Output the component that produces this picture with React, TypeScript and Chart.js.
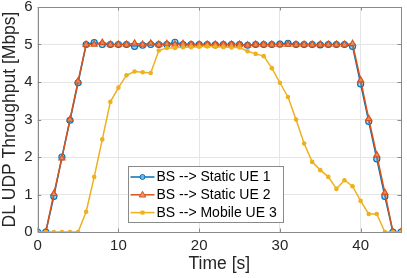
import React, { useEffect, useRef } from "react";
import { Chart, registerables } from "chart.js";

Chart.register(...registerables);

const timeS = [0,1,2,3,4,5,6,7,8,9,10,11,12,13,14,15,16,17,18,19,20,21,22,23,24,25,26,27,28,29,30,31,32,33,34,35,36,37,38,39,40,41,42,43,44,45];
const staticUE1 = [0,0,0.95,2.0,2.98,3.98,5.0,5.05,5.0,5.0,5.0,5.0,4.95,4.98,5.0,5.0,5.0,5.06,5.0,5.0,5.0,5.0,4.99,5.0,5.0,5.0,4.98,5.0,5.0,5.0,5.01,5.03,5.0,5.0,5.0,4.99,5.0,5.0,5.0,4.95,3.95,2.95,1.95,0.95,0,0];
const staticUE2 = [0,0,1.02,1.97,3.0,4.02,5.0,5.0,5.05,5.0,5.0,5.0,5.03,5.0,5.03,5.0,5.02,5.0,5.02,5.0,5.0,5.0,5.0,5.0,5.0,5.0,4.98,5.0,5.0,5.0,5.0,5.0,5.0,5.0,5.0,5.0,5.0,5.0,5.0,5.02,4.05,3.02,2.05,1.05,0,0];
const mobileUE3 = [0,0,0,0,0,0,0.54,1.47,2.47,3.47,3.85,4.18,4.28,4.26,4.24,4.84,4.91,4.91,4.93,4.93,4.94,4.95,4.94,4.93,4.92,4.92,4.82,4.75,4.69,4.37,3.98,3.6,3.0,2.36,1.87,1.65,1.47,1.15,1.38,1.22,0.83,0.48,0.48,0,0,0];

const seriesLabels = ["BS --> Static UE 1", "BS --> Static UE 2", "BS --> Mobile UE 3"];
const xTicks = [0, 10, 20, 30, 40];
const yTicks = [0, 1, 2, 3, 4, 5, 6];

const BLUE = "#0072BD";
const ORANGE = "#D95319";
const YELLOW = "#EDB120";
const TEXT = "#262626";
const FONT = "'Liberation Sans', Arial, Helvetica, sans-serif";

const boxPlugin = {
  id: "boxTicks",
  afterDraw(chart: any) {
    const { ctx, chartArea: a, scales } = chart;
    ctx.save();
    ctx.strokeStyle = "#8a8a8a";
    ctx.lineWidth = 1;
    ctx.strokeRect(Math.round(a.left) + 0.5, Math.round(a.top) + 0.5, Math.round(a.right - a.left), Math.round(a.bottom - a.top));
    const tl = 3.5;
    ctx.beginPath();
    for (const v of xTicks) {
      const x = Math.round(scales.x.getPixelForValue(v)) + 0.5;
      ctx.moveTo(x, a.bottom); ctx.lineTo(x, a.bottom - tl);
      ctx.moveTo(x, a.top); ctx.lineTo(x, a.top + tl);
    }
    for (const v of yTicks) {
      const y = Math.round(scales.y.getPixelForValue(v)) + 0.5;
      ctx.moveTo(a.left, y); ctx.lineTo(a.left + tl, y);
      ctx.moveTo(a.right, y); ctx.lineTo(a.right - tl, y);
    }
    ctx.stroke();

    // legend
    const lx = Math.round(a.left + 90.5) + 0.5;
    const ly = Math.round(a.bottom - 66) + 0.5;
    const lw = 155;
    const lh = 56;
    ctx.fillStyle = "#ffffff";
    ctx.fillRect(lx, ly, lw, lh);
    ctx.strokeStyle = "#8a8a8a";
    ctx.strokeRect(lx, ly, lw, lh);
    ctx.font = `14px ${FONT}`;
    ctx.textBaseline = "middle";
    const colors = [BLUE, ORANGE, YELLOW];
    for (let i = 0; i < 3; i++) {
      const cy = ly + 10.5 + i * 17.8;
      ctx.strokeStyle = colors[i];
      ctx.lineWidth = 1.5;
      ctx.beginPath();
      ctx.moveTo(lx + 2, cy); ctx.lineTo(lx + 26, cy);
      ctx.stroke();
      const mx = lx + 14;
      if (i === 0) {
        ctx.beginPath();
        ctx.arc(mx, cy, 2.5, 0, Math.PI * 2);
        ctx.fillStyle = "rgba(120,180,225,0.9)";
        ctx.fill();
        ctx.lineWidth = 1;
        ctx.stroke();
      } else if (i === 1) {
        ctx.beginPath();
        ctx.moveTo(mx, cy - 3.5); ctx.lineTo(mx + 3.2, cy + 2.2); ctx.lineTo(mx - 3.2, cy + 2.2); ctx.closePath();
        ctx.fillStyle = "rgba(235,150,110,0.95)";
        ctx.fill();
        ctx.lineWidth = 1;
        ctx.stroke();
      } else {
        ctx.fillStyle = YELLOW;
        ctx.fillRect(mx - 2, cy - 2, 4, 4);
      }
      ctx.fillStyle = "#000000";
      ctx.fillText(seriesLabels[i], lx + 28, cy + 0.5);
    }
    ctx.restore();
  },
};

export default function App() {
  const ref = useRef<HTMLCanvasElement | null>(null);
  useEffect(() => {
    if (!ref.current) return;
    const toXY = (arr: number[]) => arr.map((v, i) => ({ x: timeS[i], y: v }));
    const chart = new Chart(ref.current, {
      type: "line",
      data: {
        datasets: [
          {
            label: seriesLabels[0],
            data: toXY(staticUE1),
            borderColor: BLUE,
            backgroundColor: "rgba(120,180,225,0.6)",
            borderWidth: 1.5,
            pointStyle: "circle",
            pointRadius: 3,
            pointBorderWidth: 1.2,
            order: 2,
          },
          {
            label: seriesLabels[1],
            data: toXY(staticUE2),
            borderColor: ORANGE,
            backgroundColor: "rgba(235,150,110,0.8)",
            borderWidth: 1.5,
            pointStyle: "triangle",
            pointRadius: 3.5,
            pointBorderWidth: 1.2,
            order: 1,
          },
          {
            label: seriesLabels[2],
            data: toXY(mobileUE3),
            borderColor: YELLOW,
            backgroundColor: YELLOW,
            borderWidth: 1.5,
            pointStyle: "circle",
            pointRadius: 2.3,
            pointBorderWidth: 0,
            order: 0,
          },
        ],
      },
      options: {
        responsive: false,
        animation: false,
        events: [],
        layout: { padding: { top: 0, right: 6, left: 0, bottom: 0 } },
        plugins: { legend: { display: false }, tooltip: { enabled: false } },
        scales: {
          x: {
            type: "linear",
            min: 0,
            max: 45,
            afterBuildTicks: (s: any) => { s.ticks = xTicks.map((v) => ({ value: v })); },
            afterFit: (s: any) => { s.height = 46; },
            grid: { color: "#e5e5e5", drawTicks: false, lineWidth: 1 },
            border: { display: false },
            ticks: { color: TEXT, font: { family: FONT, size: 15 }, padding: 5, maxRotation: 0 },
            title: { display: true, text: "Time [s]", color: TEXT, font: { family: FONT, size: 17.5 }, padding: { top: 0, bottom: 3 } },
          },
          y: {
            min: 0,
            max: 6,
            afterBuildTicks: (s: any) => { s.ticks = yTicks.map((v) => ({ value: v })); },
            afterFit: (s: any) => { s.width = 37.7; s.paddingTop = 7; },
            grid: { color: "#e5e5e5", drawTicks: false, lineWidth: 1 },
            border: { display: false },
            ticks: { color: TEXT, font: { family: FONT, size: 15 }, padding: 5 },
            title: { display: true, text: "DL UDP Throughput [Mbps]", color: TEXT, font: { family: FONT, size: 17.5 }, padding: { top: 0, bottom: 0 } },
          },
        },
      },
      plugins: [boxPlugin],
    });
    return () => chart.destroy();
  }, []);
  return (
    <div style={{ position: "fixed", left: 0, top: 0, width: 407, height: 278, background: "#fff" }}>
      <canvas ref={ref} width={407} height={278} style={{ width: 407, height: 278, display: "block" }} />
    </div>
  );
}
